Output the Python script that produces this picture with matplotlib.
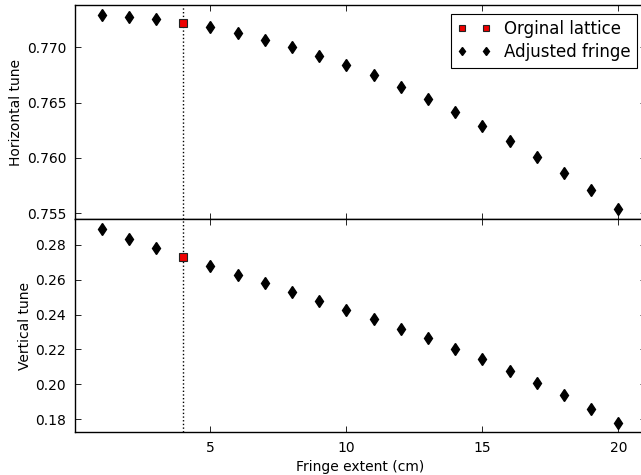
import matplotlib
matplotlib.use("Agg")
import matplotlib.pyplot as plt
from matplotlib.ticker import FormatStrFormatter

# Data
fringe_extent = [1, 2, 3, 5, 6, 7, 8, 9, 10, 11, 12, 13, 14, 15, 16, 17, 18, 19, 20]
horizontal_tune = [0.77289, 0.77277, 0.77253, 0.77181, 0.77132, 0.77069, 0.77003,
                   0.76924, 0.76840, 0.76747, 0.76644, 0.76533, 0.76412, 0.76289,
                   0.76156, 0.76011, 0.75861, 0.75704, 0.75538]
vertical_tune = [0.2890, 0.2834, 0.2781, 0.2678, 0.2629, 0.2579, 0.2530, 0.2478,
                 0.2427, 0.2374, 0.2320, 0.2263, 0.2204, 0.2143, 0.2078, 0.2010,
                 0.1937, 0.1861, 0.1781]
original_extent = [4]
original_h = [0.77222]
original_v = [0.2730]

h_ticks = [0.755, 0.760, 0.765, 0.770]
v_ticks = [0.18, 0.20, 0.22, 0.24, 0.26, 0.28]
x_ticks = [5, 10, 15, 20]

plt.rcParams.update({
    "font.family": "DejaVu Sans",
    "font.size": 10,
    "xtick.direction": "in",
    "ytick.direction": "in",
    "xtick.top": True,
    "ytick.right": True,
    "xtick.major.size": 4,
    "ytick.major.size": 4,
    "xtick.major.width": 0.6,
    "ytick.major.width": 0.6,
    "xtick.major.pad": 6,
    "ytick.major.pad": 6,
    "axes.linewidth": 1.0,
})

fig = plt.figure(figsize=(6.41, 4.75), dpi=100)
left = 74.5 / 641
right = 645.5 / 641
ax1 = fig.add_axes([left, 1 - 219 / 475, right - left, (219 - 5.3) / 475])
ax2 = fig.add_axes([left, 1 - 432.3 / 475, right - left, (432.3 - 219) / 475], sharex=ax1)

for ax, orig, vals in ((ax1, original_h, horizontal_tune), (ax2, original_v, vertical_tune)):
    ax.axvline(original_extent[0], color="black", linestyle=":", linewidth=1.0, zorder=1)
    ax.plot(original_extent, orig, linestyle="none", marker="s", markersize=5.5,
            markerfacecolor="#ee0000", markeredgecolor="#222222", markeredgewidth=0.8,
            label="Orginal lattice", zorder=3)
    ax.plot(fringe_extent, vals, linestyle="none", marker="d", markersize=6,
            color="black", label="Adjusted fringe", zorder=3)

ax1.set_xlim(0, 21)
ax1.set_ylim(0.75446, 0.7738)
ax2.set_ylim(0.1726, 0.2947)
ax1.set_yticks(h_ticks)
ax2.set_yticks(v_ticks)
ax1.yaxis.set_major_formatter(FormatStrFormatter("%.3f"))
ax2.yaxis.set_major_formatter(FormatStrFormatter("%.2f"))
ax2.set_xticks(x_ticks)
ax1.tick_params(labelbottom=False)

ax1.set_ylabel("Horizontal tune", labelpad=2.5)
ax2.set_ylabel("Vertical tune", labelpad=2.5)
ax2.set_xlabel("Fringe extent (cm)")

leg = ax1.legend(loc="upper right", numpoints=2, fontsize=12, fancybox=False,
                 framealpha=1, edgecolor="black", handlelength=2.0, markerscale=0.75,
                 borderpad=0.4, labelspacing=0.3, handletextpad=0.8)
leg.get_frame().set_linewidth(0.8)

fig.savefig("out.png", dpi=100)
